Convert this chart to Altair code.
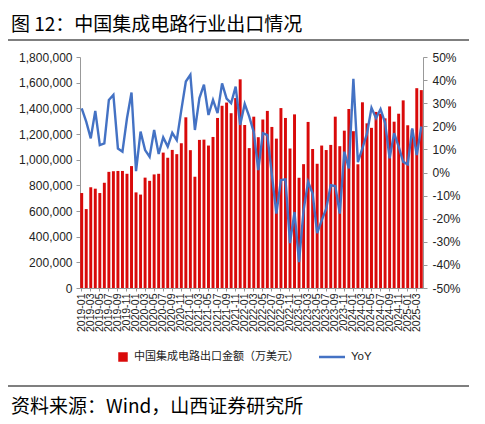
import altair as alt
import pandas as pd

months = [f"{y}-{m:02d}" for y in range(2019, 2026) for m in range(1, 13)][:76]

# 中国集成电路出口金额（万美元）
exports = [
    740000, 615000, 785000, 774000, 740000, 820000, 905000, 910000, 912000, 912000, 890000, 950000,
    745000, 728000, 860000, 835000, 885000, 890000, 1055000, 1015000, 1076000, 1043000, 1128000, 1330000,
    1074000, 867000, 1154000, 1156000, 1110000, 1177000, 1325000, 1420000, 1445000, 1362000, 1480000, 1626000,
    1270000, 1090000, 1335000, 1175000, 1313000, 1380000, 1255000, 1164000, 1402000, 1325000, 1087000, 1353000,
    859000, 965000, 1294000, 1083000, 968000, 1110000, 1075000, 1115000, 1335000, 1105000, 1226000, 1395000,
    1222000, 964000, 1447000, 1283000, 1248000, 1372000, 1358000, 1322000, 1415000, 1296000, 1358000, 1462000,
    1268000, 1234000, 1557000, 1542000,
]

# YoY (%)
yoy = [
    27.8, 22.0, 14.8, 26.7, 11.9, 12.6, 31.4, 33.6, 10.4, 9.0, 23.5, 34.6,
    0.6, 17.7, 9.7, 6.8, 18.4, 8.0, 15.2, 11.2, 17.2, 14.0, 27.0, 39.4,
    42.3, 18.4, 32.2, 38.0, 24.9, 31.4, 25.7, 38.6, 32.0, 30.0, 37.2, 20.6,
    29.7, 24.2, 17.5, 1.0, 17.0, 16.2, -1.0, -17.8, -3.3, -3.0, -30.6, -17.1,
    -38.8, -16.4, -4.0, -9.1, -26.2, -20.7, -15.7, -5.5, -5.9, -17.8, 9.0, 1.8,
    40.6, 4.5, 10.5, 16.8, 28.0, 23.5, 27.4, 21.5, 6.1, 17.0, 11.2, 4.6,
    3.5, 19.1, 7.5, 19.9,
]

left_ticks = list(range(0, 1800001, 200000))
right_ticks = list(range(-50, 51, 10))
x_labels = months[::2]

title_text = "图 12：中国集成电路行业出口情况"
source_text = "资料来源：Wind，山西证券研究所"
bar_name = "中国集成电路出口金额（万美元）"
line_name = "YoY"

RED = "#D90A0A"
BLUE = "#4472C4"
CJK = "Noto Sans CJK SC"
LAT = "Liberation Sans"

df = pd.DataFrame({"month": months, "exports": exports, "yoy": yoy})

x_enc = alt.X(
    "month:O",
    sort=None,
    scale=alt.Scale(paddingInner=0.35, paddingOuter=0.05),
    axis=alt.Axis(
        values=x_labels, labelAngle=-90, labelFontSize=10.5, labelFont=LAT,
        labelColor="#222", title=None, domainColor="#999", tickColor="#999",
        tickSize=3, labelPadding=2,
    ),
)

bars = alt.Chart(df).mark_bar(color=RED).encode(
    x=x_enc,
    y=alt.Y(
        "exports:Q",
        scale=alt.Scale(domain=[0, 1800000], nice=False),
        axis=alt.Axis(
            orient="left", values=left_ticks, format=",d", title=None, grid=False,
            labelFontSize=12, labelFont=LAT, labelColor="#222",
            domainColor="#999", tickColor="#999", tickSize=4, labelPadding=4,
        ),
    ),
)

line = alt.Chart(df).mark_line(color=BLUE, strokeWidth=2.4).encode(
    x=x_enc,
    y=alt.Y(
        "yoy:Q",
        scale=alt.Scale(domain=[-50, 50], nice=False),
        axis=alt.Axis(
            orient="right", values=right_ticks, labelExpr="datum.value + '%'",
            title=None, grid=False, labelFontSize=12, labelFont=LAT,
            labelColor="#222", domainColor="#999", tickColor="#999",
            tickSize=4, labelPadding=5,
        ),
    ),
)

one = pd.DataFrame({"k": [0]})
ann = alt.Chart(one)

title_mark = ann.mark_text(
    align="left", baseline="middle", font=CJK, fontSize=19, color="#000"
).encode(x=alt.value(-69), y=alt.value(-32), text=alt.value(title_text))

top_rule = ann.mark_rule(color="#000", strokeWidth=1.2).encode(
    x=alt.value(-72), x2=alt.value(397), y=alt.value(-17)
)

legend_sq = ann.mark_square(color=RED, size=90, opacity=1).encode(
    x=alt.value(43), y=alt.value(300)
)
legend_t1 = ann.mark_text(
    align="left", baseline="middle", font=CJK, fontSize=11, color="#222"
).encode(x=alt.value(54), y=alt.value(300), text=alt.value(bar_name))
legend_ln = ann.mark_rule(color=BLUE, strokeWidth=2.5).encode(
    x=alt.value(239), x2=alt.value(265), y=alt.value(300)
)
legend_t2 = ann.mark_text(
    align="left", baseline="middle", font=LAT, fontSize=11.5, color="#222"
).encode(x=alt.value(271), y=alt.value(300), text=alt.value(line_name))

bottom_rule = ann.mark_rule(color="#000", strokeWidth=1.2).encode(
    x=alt.value(-72), x2=alt.value(397), y=alt.value(329)
)
source_mark = ann.mark_text(
    align="left", baseline="middle", font=CJK, fontSize=19, color="#000"
).encode(x=alt.value(-69), y=alt.value(350), text=alt.value(source_text))

chart = (
    alt.layer(
        bars, line, title_mark, top_rule, legend_sq, legend_t1, legend_ln,
        legend_t2, bottom_rule, source_mark,
    )
    .resolve_scale(y="independent")
    .properties(
        width=343, height=231,
        autosize=alt.AutoSizeParams(type="none"),
        padding={"left": 72, "top": 49, "right": 46, "bottom": 130},
        background="white",
    )
    .configure_view(stroke=None)
)

chart.save("out.html", embed_options={"renderer": "svg", "actions": False})
